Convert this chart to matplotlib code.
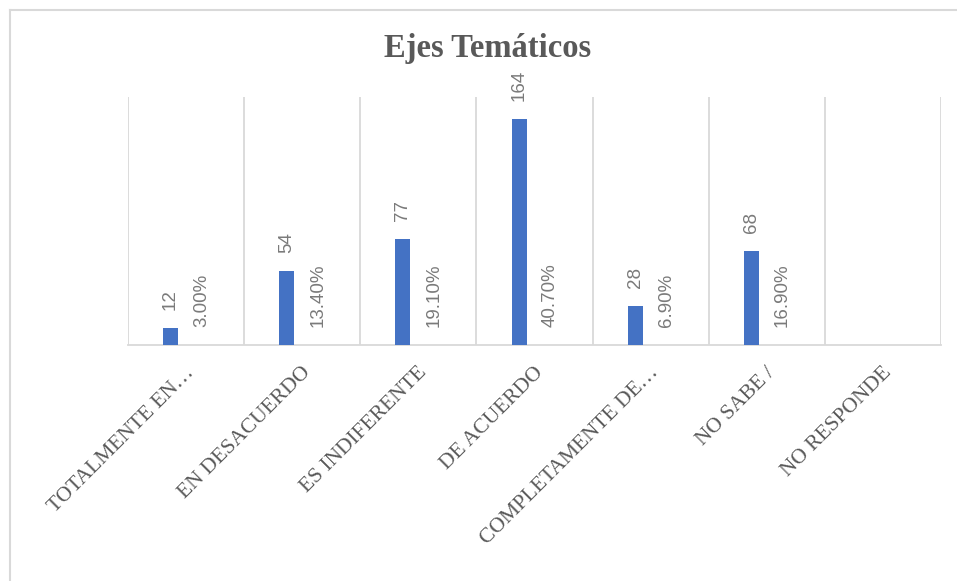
import numpy as np
import matplotlib
matplotlib.use("Agg")
import matplotlib.pyplot as plt
from matplotlib.lines import Line2D

categories = ["TOTALMENTE EN…", "EN DESACUERDO", "ES INDIFERENTE", "DE ACUERDO",
              "COMPLETAMENTE DE…", "NO SABE /", "NO RESPONDE"]
counts = [12, 54, 77, 164, 28, 68]
percents = [3.00, 13.40, 19.10, 40.70, 6.90, 16.90]
title = "Ejes Temáticos"

W, H = 957, 581
fig = plt.figure(figsize=(W / 100, H / 100), dpi=100)
ax = fig.add_axes([128 / W, (H - 345) / H, (941 - 128) / W, (345 - 97) / H])

blue = "#4472C4"
grey_txt = "#595959"
lab_col = "#7A7A7A"
grid_col = "#D9D9D9"

x = np.arange(len(counts))
bw = 0.13
off = 0.133
ax.bar(x - off, counts, bw, color=blue, zorder=3)

for xi, c in zip(x, counts):
    ax.annotate(str(c), (xi - off, c), xytext=(0, 13), textcoords="offset points",
                rotation=90, ha="center", va="bottom", fontsize=13.5,
                color=lab_col, family="Liberation Sans")
# percent series sits on the baseline (its bars are too small to see)
for xi, p in zip(x, percents):
    ax.annotate(f"{p:.2f}%", (xi + off, 0), xytext=(0, 13), textcoords="offset points",
                rotation=90, ha="center", va="bottom", fontsize=13.5,
                color=lab_col, family="Liberation Sans")

ax.set_xlim(-0.5, len(categories) - 0.5)
ax.set_ylim(0, 180)
ax.set_yticks([])
ax.set_xticks(np.arange(len(categories)))
ax.set_xticklabels([])
ax.tick_params(axis="x", length=0)
for b in np.arange(-0.5, len(categories), 1.0):
    ax.axvline(b, color=grid_col, lw=1.3, zorder=1)
for s in ["top", "left", "right"]:
    ax.spines[s].set_visible(False)
ax.spines["bottom"].set_color(grid_col)
ax.spines["bottom"].set_linewidth(1.3)

for i, cat in enumerate(categories):
    ax.annotate(cat, (i, 0), xytext=(4, -18), textcoords="offset points",
                rotation=45, rotation_mode="anchor", ha="right", va="center",
                fontsize=15.5, color=grey_txt, family="Liberation Serif")

fig.text(488 / W, 1 - 57 / H, title, ha="center", va="baseline", fontsize=23.5,
         fontweight="bold", color=grey_txt, family="Liberation Serif")

# chart border (cropped: only top and left visible)
fig.add_artist(Line2D([10 / W, 1], [1 - 10 / H, 1 - 10 / H], transform=fig.transFigure,
                      color=grid_col, lw=1.5))
fig.add_artist(Line2D([10 / W, 10 / W], [0, 1 - 10 / H], transform=fig.transFigure,
                      color=grid_col, lw=1.5))

fig.savefig("out.png", dpi=100)
